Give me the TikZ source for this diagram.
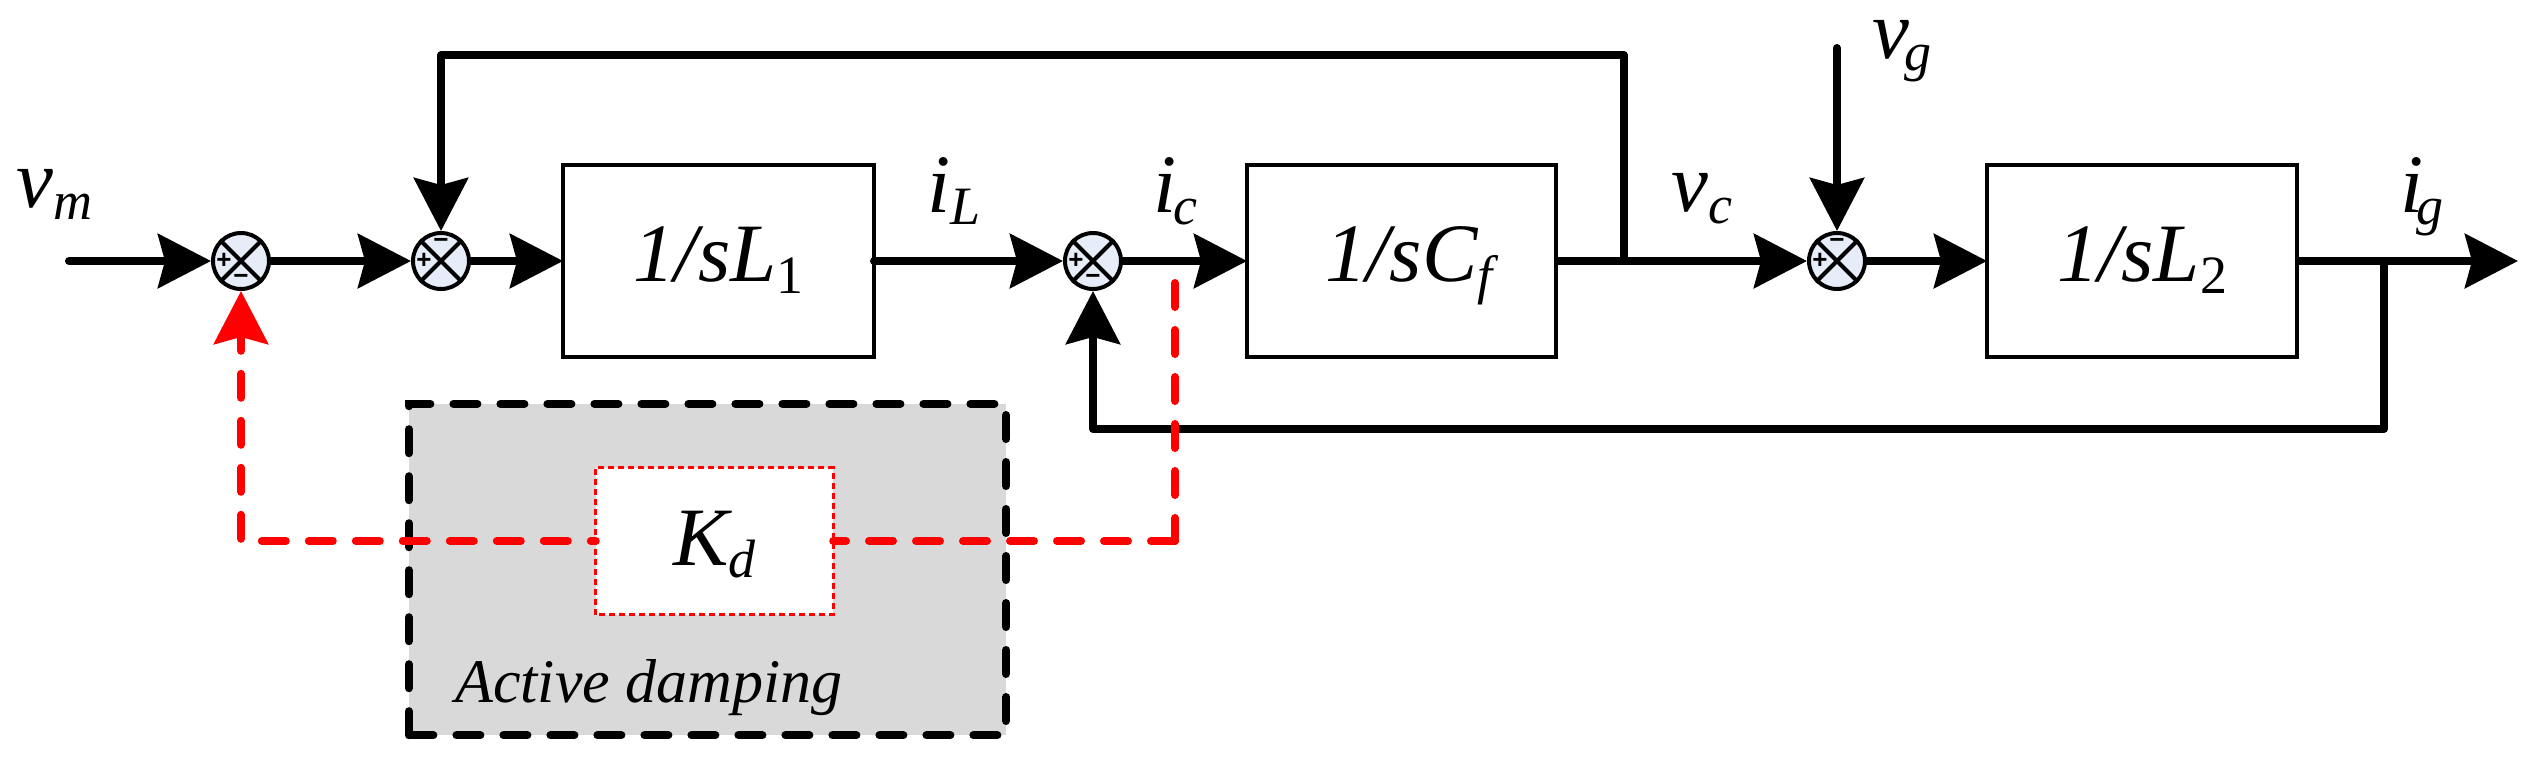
\documentclass[tikz,border=0pt]{standalone}
\usepackage{fontspec}
\setmainfont{Liberation Serif}
\newfontfamily\signfont{Liberation Sans}
\usetikzlibrary{arrows.meta,calc}
\definecolor{sumfill}{HTML}{E7EDF8}
\definecolor{adgray}{HTML}{D9D9D9}
\newcommand{\bigt}{\fontsize{83}{83}\selectfont\itshape}
\newcommand{\dn}[1]{\raisebox{-12pt}{\fontsize{54}{54}\selectfont #1}}
\newcommand{\sumj}[4]{% name, x, y, offset of the minus sign
  \node[sumc] (#1) at (#2,#3) {};
  \draw[xline] (#1.45) -- (#1.225);
  \draw[xline] (#1.135) -- (#1.315);
  \node[sign] (#1p) at ($(#1)+(-17,0)$) {+};
  \node[sign] (#1m) at ($(#1)+(0,#4)$) {−};
}
\tikzset{
  x=1pt,y=-1pt,
  sumc/.style={circle,draw=black,fill=sumfill,line width=4pt,minimum size=56pt,inner sep=0pt},
  xline/.style={line width=4pt,black},
  sign/.style={inner sep=0pt,font=\signfont\bfseries\fontsize{26}{26}\selectfont},
  blk/.style={rectangle,draw=black,line width=4pt,outer sep=0pt,minimum height=192pt,inner sep=0pt,text height=60pt,text depth=20pt,font=\bigt},
  sig/.style={line width=8pt,black,line join=round},
  tip/.style={-{Stealth[length=53pt,width=54pt,inset=7pt]}},
  rsig/.style={line width=8pt,red,line cap=round,line join=round,dash pattern=on 24pt off 23pt},
  lab/.style={anchor=base west,inner sep=0pt,font=\bigt},
}
\begin{document}
\begin{tikzpicture}
\useasboundingbox (0,0) rectangle (2538,761);
\fill[white] (0,0) rectangle (2538,761);
% active damping frame
\node[fill=adgray,minimum width=597pt,minimum height=331pt,inner sep=0pt] (ad) at (707.5,569.5) {};
\draw[line width=8pt,black,line cap=round,dash pattern=on 24pt off 23pt]
  (ad.south west) -- (ad.north west) -- (ad.north east) -- (ad.south east) -- cycle;
% blocks
\node[blk,minimum width=311pt] (L1) at (718.5,261) {1/sL\dn{\upshape 1}};
\node[blk,minimum width=309pt] (Cf) at (1401.5,261) {\hspace*{15pt}1/sC\dn{f}};
\node[blk,minimum width=310pt] (L2) at (2142,261) {1/sL\dn{\upshape 2}};
% summing junctions
\sumj{c1}{241}{261}{18}
\sumj{c2}{441}{261}{-18}
\sumj{c3}{1093}{261}{18}
\sumj{c4}{1837}{261}{-18}
% free ends and bends
\coordinate (vmin) at (69,261);
\coordinate (vgin) at (1837,48);
\coordinate (out) at (2518,261);
\coordinate (j1) at (1623.5,261);
\coordinate (j2) at (2384,261);
\coordinate (t1) at (441,55);
\coordinate (b1) at (1093,429);
% black connectors
\draw[sig,tip,line cap=round] (vmin) -- (c1.west);
\draw[sig,tip] (c1.east) -- (c2.west);
\draw[sig,tip] (c2.east) -- (L1.west);
\draw[sig,tip,line cap=round] (L1.east) -- (c3.west);
\draw[sig,tip] (c3.east) -- (Cf.west);
\draw[sig,tip] (Cf.east) -- (c4.west);
\draw[sig,tip] (c4.east) -- (L2.west);
\draw[sig,tip] (L2.east) -- (out);
\draw[sig,tip,line cap=round] (vgin) -- (c4.north);
\draw[sig,tip] (j1) |- (t1) -- (c2.north);
\draw[sig,tip] (j2) |- (b1) -- (c3.south);
% gain
\node[fill=white,minimum width=237pt,minimum height=147pt,inner sep=0pt,text height=60pt,text depth=11pt,font=\bigt] (Kd) at (714.5,541) {K\dn{d}};
% red connectors
\coordinate (r1) at (1175,283);
\coordinate (r2) at (1175,541);
\coordinate (r3) at (241,541);
\draw[rsig] (r1) -- (r2);
\draw[rsig] (r2) -- (Kd.east);
\draw[rsig,dash phase=19pt,tip] (Kd.west) -- (r3) -- (c1.south);
\draw[line width=3pt,red,dash pattern=on 6pt off 4pt] (Kd.south west) rectangle (Kd.north east);
% labels
\node[lab] (lvm) at (16,207) {v\dn{m}};
\node[lab] (lvg) at (1872,58) {v\hspace{-5pt}\dn{g}};
\node[lab] (liL) at (927,212) {i\dn{L}};
\node[lab] (lic) at (1153,212) {i\hspace{-3pt}\dn{c}};
\node[lab] (lvc) at (1671,211) {v\dn{c}};
\node[lab] (lig) at (2400,212) {i\hspace{-7pt}\dn{g}};
\node[lab,font=\fontsize{62}{62}\selectfont\itshape] (lad) at (455,702) {Active damping};
\end{tikzpicture}
\end{document}
